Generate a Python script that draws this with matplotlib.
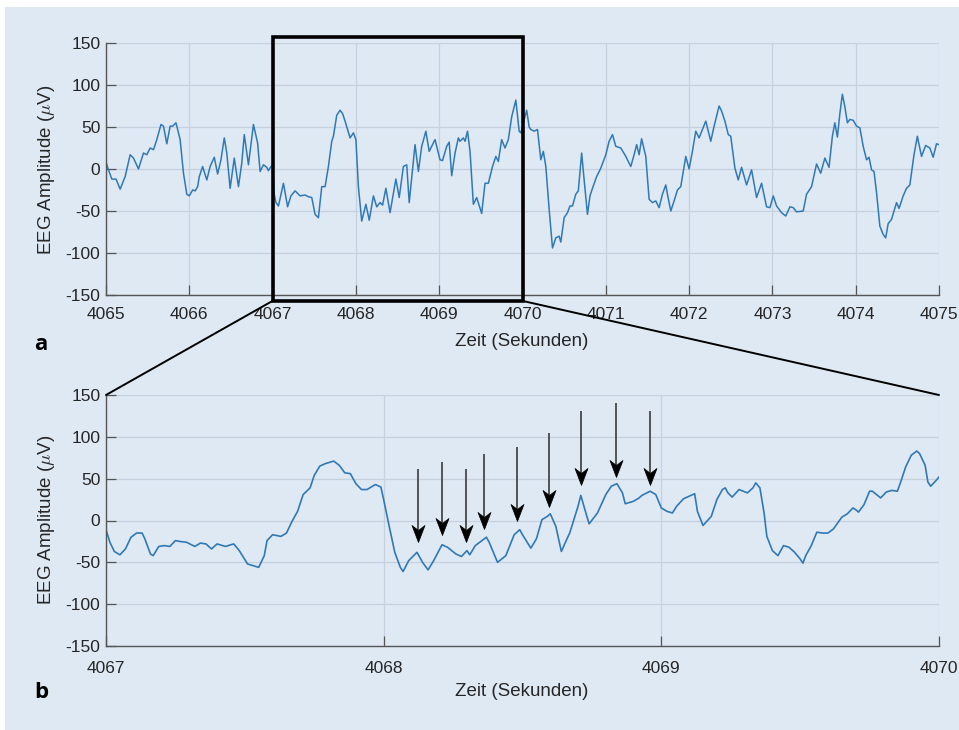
import matplotlib
matplotlib.use("Agg")
import matplotlib.pyplot as plt
from matplotlib.patches import Rectangle, ConnectionPatch
from matplotlib.path import Path
from matplotlib.markers import MarkerStyle

plt.rcParams['font.family'] = ['Liberation Sans', 'DejaVu Sans']
plt.rcParams['mathtext.fontset'] = 'cm'

# ---------------- data ----------------
top_t = [4065.00, 4065.03, 4065.07, 4065.12, 4065.17, 4065.23, 4065.29, 4065.33, 4065.39, 4065.45,
         4065.49, 4065.53, 4065.57, 4065.61, 4065.66, 4065.69, 4065.73, 4065.77, 4065.80, 4065.84,
         4065.89, 4065.93, 4065.97, 4066.00, 4066.04, 4066.07, 4066.10, 4066.12, 4066.16, 4066.21,
         4066.25, 4066.30, 4066.34, 4066.38, 4066.42, 4066.45, 4066.49, 4066.54, 4066.59, 4066.63,
         4066.66, 4066.71, 4066.77, 4066.82, 4066.85, 4066.89, 4066.93, 4066.95, 4066.98, 4067.00,
         4067.02, 4067.04, 4067.07, 4067.13, 4067.18, 4067.22, 4067.27, 4067.33, 4067.39, 4067.43,
         4067.47, 4067.51, 4067.55, 4067.59, 4067.63, 4067.67, 4067.71, 4067.73, 4067.77, 4067.81,
         4067.84, 4067.87, 4067.93, 4067.97, 4068.00, 4068.03, 4068.07, 4068.12, 4068.16, 4068.21,
         4068.25, 4068.29, 4068.32, 4068.36, 4068.41, 4068.48, 4068.52, 4068.57, 4068.61, 4068.64,
         4068.71, 4068.75, 4068.79, 4068.84, 4068.88, 4068.95, 4069.01, 4069.04, 4069.09, 4069.12,
         4069.15, 4069.19, 4069.23, 4069.25, 4069.29, 4069.31, 4069.34, 4069.37, 4069.41, 4069.45,
         4069.51, 4069.55, 4069.59, 4069.64, 4069.68, 4069.71, 4069.75, 4069.79, 4069.83, 4069.87,
         4069.92, 4069.96, 4069.98, 4070.05, 4070.08, 4070.10, 4070.14, 4070.18, 4070.22, 4070.25,
         4070.28, 4070.32, 4070.36, 4070.40, 4070.44, 4070.46, 4070.50, 4070.54, 4070.57, 4070.60,
         4070.64, 4070.67, 4070.71, 4070.74, 4070.78, 4070.81, 4070.84, 4070.89, 4070.94, 4071.00,
         4071.04, 4071.08, 4071.12, 4071.18, 4071.24, 4071.30, 4071.34, 4071.37, 4071.40, 4071.43,
         4071.48, 4071.52, 4071.56, 4071.60, 4071.64, 4071.68, 4071.72, 4071.74, 4071.78, 4071.82,
         4071.86, 4071.90, 4071.96, 4072.00, 4072.04, 4072.08, 4072.12, 4072.20, 4072.26, 4072.30,
         4072.36, 4072.39, 4072.43, 4072.47, 4072.50, 4072.55, 4072.59, 4072.63, 4072.69, 4072.75,
         4072.81, 4072.87, 4072.93, 4072.97, 4073.01, 4073.05, 4073.11, 4073.16, 4073.21, 4073.25,
         4073.29, 4073.37, 4073.41, 4073.47, 4073.53, 4073.58, 4073.63, 4073.68, 4073.72, 4073.75,
         4073.78, 4073.81, 4073.84, 4073.87, 4073.90, 4073.93, 4073.97, 4074.01, 4074.05, 4074.09,
         4074.13, 4074.16, 4074.19, 4074.22, 4074.25, 4074.29, 4074.33, 4074.36, 4074.39, 4074.43,
         4074.49, 4074.52, 4074.57, 4074.61, 4074.65, 4074.70, 4074.74, 4074.79, 4074.84, 4074.89,
         4074.93, 4074.97, 4075.00]
top_v = [8, -1, -12, -12, -24, -9, 17, 13, 0, 19,
         17, 25, 23, 35, 53, 51, 30, 51, 51, 55,
         35, -5, -30, -32, -25, -26, -21, -9, 3, -13,
         3, 14, -6, 11, 37, 19, -23, 13, -21, 7,
         41, 5, 53, 31, -3, 5, 2, -2, 3, 4,
         -30, -40, -44, -17, -45, -32, -26, -32, -31, -33,
         -34, -54, -58, -21, -21, 3, 33, 39, 64, 70,
         66, 57, 37, 43, 35, -21, -62, -42, -61, -32,
         -45, -40, -43, -23, -52, -12, -34, 3, 5, -40,
         29, -3, 27, 45, 21, 35, 11, 10, 27, 32,
         -8, 19, 37, 33, 37, 33, 45, 21, -42, -34,
         -53, -17, -17, 3, 15, 9, 35, 25, 35, 62,
         82, 45, 43, 70, 50, 47, 45, 47, 11, 21,
         3, -48, -94, -82, -80, -87, -58, -52, -44, -44,
         -30, -26, 19, -13, -54, -32, -23, -9, 1, 17,
         33, 41, 27, 25, 15, 3, 17, 29, 17, 36,
         15, -36, -40, -38, -46, -30, -19, -30, -50, -38,
         -25, -21, 15, 0, 21, 45, 37, 57, 33, 51,
         75, 69, 57, 41, 39, 1, -13, 2, -19, -1,
         -34, -17, -45, -46, -32, -44, -52, -56, -45, -46,
         -51, -50, -30, -21, 6, -5, 13, 2, 39, 55,
         38, 66, 89, 74, 55, 59, 58, 51, 49, 27,
         11, 14, -1, -3, -28, -68, -78, -82, -65, -60,
         -40, -47, -32, -23, -19, 17, 39, 15, 28, 25,
         14, 30, 29]

zoom_t = [4067.000, 4067.014, 4067.030, 4067.050, 4067.070, 4067.090, 4067.110, 4067.130, 4067.140, 4067.160,
          4067.170, 4067.190, 4067.210, 4067.230, 4067.250, 4067.265, 4067.290, 4067.320, 4067.340, 4067.360,
          4067.380, 4067.400, 4067.430, 4067.460, 4067.480, 4067.510, 4067.530, 4067.550, 4067.570, 4067.580,
          4067.600, 4067.630, 4067.650, 4067.670, 4067.690, 4067.710, 4067.735, 4067.750, 4067.770, 4067.790,
          4067.820, 4067.840, 4067.860, 4067.880, 4067.900, 4067.920, 4067.940, 4067.970, 4067.990, 4068.000,
          4068.020, 4068.040, 4068.060, 4068.070, 4068.090, 4068.120, 4068.140, 4068.160, 4068.180, 4068.210,
          4068.230, 4068.260, 4068.280, 4068.300, 4068.310, 4068.330, 4068.370, 4068.380, 4068.410, 4068.440,
          4068.470, 4068.490, 4068.500, 4068.530, 4068.550, 4068.570, 4068.590, 4068.600, 4068.620, 4068.640,
          4068.660, 4068.670, 4068.700, 4068.710, 4068.730, 4068.740, 4068.770, 4068.800, 4068.820, 4068.840,
          4068.860, 4068.870, 4068.900, 4068.920, 4068.930, 4068.960, 4068.980, 4069.000, 4069.020, 4069.040,
          4069.055, 4069.080, 4069.100, 4069.120, 4069.130, 4069.150, 4069.180, 4069.200, 4069.220, 4069.230,
          4069.240, 4069.255, 4069.280, 4069.295, 4069.310, 4069.330, 4069.340, 4069.355, 4069.370, 4069.380,
          4069.400, 4069.420, 4069.440, 4069.460, 4069.480, 4069.500, 4069.510, 4069.520, 4069.540, 4069.560,
          4069.580, 4069.600, 4069.620, 4069.650, 4069.670, 4069.690, 4069.700, 4069.710, 4069.730, 4069.750,
          4069.760, 4069.790, 4069.810, 4069.830, 4069.850, 4069.860, 4069.880, 4069.900, 4069.920, 4069.930,
          4069.950, 4069.960, 4069.970, 4069.990, 4070.000]
zoom_v = [-11, -26, -37, -41, -34, -20, -15, -15, -22, -40,
          -42, -31, -30, -31, -24, -25, -26, -31, -27, -28,
          -34, -28, -31, -28, -36, -52, -54, -56, -42, -24,
          -17, -19, -15, -1, 11, 31, 39, 54, 65, 68,
          71, 66, 57, 56, 44, 37, 37, 43, 40, 25,
          -7, -38, -56, -61, -48, -38, -50, -59, -48, -29,
          -32, -40, -43, -36, -41, -30, -20, -26, -50, -42,
          -17, -11, -17, -33, -22, 1, 5, 8, -7, -37,
          -22, -15, 17, 30, 7, -4, 9, 31, 41, 44,
          33, 20, 23, 27, 30, 35, 31, 15, 11, 9,
          17, 26, 29, 32, 11, -6, 5, 25, 37, 39,
          33, 28, 37, 35, 33, 39, 45, 39, 9, -19,
          -36, -42, -30, -32, -38, -46, -51, -42, -30, -14,
          -15, -15, -10, 4, 8, 15, 13, 10, 19, 35,
          35, 27, 34, 36, 35, 44, 64, 78, 83, 80,
          66, 46, 41, 48, 52]

arrow_t = [4068.122, 4068.210, 4068.297, 4068.363, 4068.480, 4068.597, 4068.712, 4068.836, 4068.960]
arrow_top = [61, 70, 61, 79, 88, 105, 131, 140, 131]
arrow_tip = [-26, -17, -26, -10, -1, 16, 43, 52, 43]

top_xticks = [4065, 4066, 4067, 4068, 4069, 4070, 4071, 4072, 4073, 4074, 4075]
zoom_xticks = [4067, 4068, 4069, 4070]
yticks = [-150, -100, -50, 0, 50, 100, 150]
ylabel = "EEG Amplitude ($\\mu$V)"
xlabel = "Zeit (Sekunden)"

# ---------------- figure ----------------
BG = '#dfe9f4'
LINE = '#3079b4'
GRID = '#c6d1dd'
SPINE = '#555555'
TXT = '#262626'

W, H = 959, 730
fig = plt.figure(figsize=(W / 100, H / 100), dpi=100)
fig.patch.set_facecolor('white')
fig.add_artist(Rectangle((5 / W, 0), 1, (H - 7) / H, transform=fig.transFigure,
                         facecolor=BG, edgecolor='none', zorder=-10))

def px_axes(l, t, r, b):
    return [l / W, (H - b) / H, (r - l) / W, (b - t) / H]

ax1 = fig.add_axes(px_axes(106, 43, 939, 295))
ax2 = fig.add_axes(px_axes(106, 395, 939, 646))

def style(ax, xticks, xlim, xpad):
    ax.set_facecolor('none')
    ax.set_xlim(*xlim)
    ax.set_ylim(-150, 150)
    ax.set_xticks(xticks)
    ax.set_yticks(yticks)
    ax.set_xticklabels([str(x) for x in xticks])
    ax.set_yticklabels([str(y) for y in yticks])
    for s in ['top', 'right']:
        ax.spines[s].set_visible(False)
    for s in ['left', 'bottom']:
        ax.spines[s].set_color(SPINE)
        ax.spines[s].set_linewidth(1.0)
    ax.grid(True, color=GRID, linewidth=0.9)
    ax.set_axisbelow(True)
    ax.tick_params(direction='in', length=7, width=0.9, color=SPINE,
                   labelcolor=TXT, labelsize=12.5)
    ax.tick_params(axis='x', pad=xpad)
    ax.tick_params(axis='y', pad=4)

style(ax1, top_xticks, (4065, 4075), 9)
style(ax2, zoom_xticks, (4067, 4070), 10.5)

ax1.plot(top_t, top_v, color=LINE, linewidth=1.1, solid_joinstyle='round')
ax2.plot(zoom_t, zoom_v, color=LINE, linewidth=1.2, solid_joinstyle='round')

# zoom box
ax1.add_patch(Rectangle((4067, -157), 3, 314, fill=False, edgecolor='black',
                        linewidth=2.6, clip_on=False, zorder=5))
for xa in (4067, 4070):
    con = ConnectionPatch(xyA=(xa, -157), coordsA=ax1.transData,
                          xyB=(xa, 150), coordsB=ax2.transData,
                          color='black', linewidth=1.4, zorder=6)
    fig.add_artist(con)

# arrows: shaft + notched arrowhead (tip at marker origin)
head_path = Path([(0, 0), (-6.5, 17), (0, 12), (6.5, 17), (0, 0)],
                 [Path.MOVETO, Path.LINETO, Path.LINETO, Path.LINETO, Path.CLOSEPOLY])
head_marker = MarkerStyle(head_path)
px_per_unit = 251 / 300.0
shaft_start = [tip + 12 / px_per_unit for tip in arrow_tip]
ax2.vlines(arrow_t, shaft_start, arrow_top, colors='#3a3a3a', linewidth=1.2, zorder=4)
ax2.plot(arrow_t, arrow_tip, linestyle='none', marker=head_marker, markersize=24.5,
         markerfacecolor='black', markeredgecolor='black', markeredgewidth=0.5, zorder=5)

# labels
fig.text(522 / W, 1 - 341 / H, xlabel, ha='center', va='center', fontsize=13.5, color=TXT)
fig.text(522 / W, 1 - 691 / H, xlabel, ha='center', va='center', fontsize=13.5, color=TXT)
fig.text(47 / W, 1 - 170 / H, ylabel, ha='center', va='center', rotation=90, fontsize=13.5, color=TXT)
fig.text(47 / W, 1 - 520 / H, ylabel, ha='center', va='center', rotation=90, fontsize=13.5, color=TXT)
fig.text(41 / W, 1 - 345 / H, 'a', ha='center', va='center', fontsize=16, fontweight='bold',
         family=['Open Sans', 'DejaVu Sans'], color='black')
fig.text(41 / W, 1 - 693 / H, 'b', ha='center', va='center', fontsize=16, fontweight='bold',
         family=['Open Sans', 'DejaVu Sans'], color='black')

fig.savefig('out.png', dpi=100, facecolor=fig.get_facecolor())
